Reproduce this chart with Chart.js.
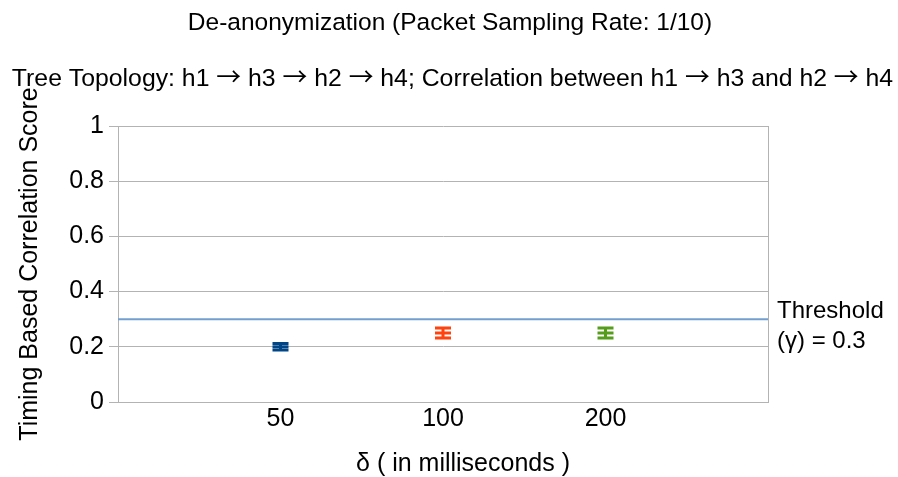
<!DOCTYPE html>
<html>
<head>
<meta charset="utf-8">
<script src="https://cdn.jsdelivr.net/npm/chart.js@4"></script>
<style>
  html, body { margin: 0; padding: 0; background: #fff; }
  #wrap { width: 898px; height: 477px; }
</style>
</head>
<body>
<div id="wrap"><canvas id="c" width="898" height="477"></canvas></div>
<script>
const categories = ['50', '100', '200'];
const meanScores = [0.20, 0.25, 0.25];
const errorMargins = [0.012, 0.018, 0.018];
const seriesColors = ['#004586', '#ff420e', '#579d1c'];
const yTicks = [0, 0.2, 0.4, 0.6, 0.8, 1];
const threshold = 0.3;
const titleText = 'De-anonymization (Packet Sampling Rate: 1/10)';
const subtitleText = 'Tree Topology: h1 \u2192 h3 \u2192 h2 \u2192 h4; Correlation between h1 \u2192 h3 and h2 \u2192 h4';
const xTitle = '\u03b4 ( in milliseconds )';
const yTitle = 'Timing Based Correlation Score';
const thresholdLines = ['Threshold', '(\u03b3) = 0.3'];

const FONT = '"Liberation Sans", Arial, sans-serif';
const ARROW_FONT = '"Noto Sans CJK SC", "DejaVu Sans", sans-serif';
const FS = 24;
const TICK_FS = 25;
const TFS = 24.5;
const STFS = 24.8;
const slotCount = categories.length + 1;

const pointDatasets = categories.map((c, i) => ({
  label: c,
  data: [{ x: i + 1, y: meanScores[i] }],
  errors: [errorMargins[i]],
  showLine: false,
  pointStyle: 'line',
  pointRadius: 8,
  pointHoverRadius: 8,
  borderWidth: 3,
  borderColor: seriesColors[i],
  backgroundColor: seriesColors[i]
}));

const thresholdDataset = {
  label: 'Threshold',
  data: [{ x: 0, y: threshold }, { x: slotCount, y: threshold }],
  showLine: true,
  pointRadius: 0,
  borderColor: '#729fcf',
  borderWidth: 2,
  fill: false
};

const errorBarPlugin = {
  id: 'errorBars',
  afterDatasetsDraw(chart) {
    const ctx = chart.ctx;
    const xs = chart.scales.x, ys = chart.scales.y;
    chart.data.datasets.forEach((ds) => {
      if (!ds.errors) return;
      ds.data.forEach((p, j) => {
        const e = ds.errors[j];
        const px = xs.getPixelForValue(p.x);
        const top = ys.getPixelForValue(p.y + e);
        const bot = ys.getPixelForValue(p.y - e);
        ctx.save();
        ctx.strokeStyle = ds.borderColor;
        ctx.lineWidth = 3;
        ctx.beginPath();
        ctx.moveTo(px, top); ctx.lineTo(px, bot);
        ctx.moveTo(px - 8, top); ctx.lineTo(px + 8, top);
        ctx.moveTo(px - 8, bot); ctx.lineTo(px + 8, bot);
        ctx.stroke();
        ctx.restore();
      });
    });
  }
};

function drawMixed(ctx, text, cx, y, size) {
  const parts = text.split(/(\u2192)/);
  const fontFor = (p) => (p === '\u2192' ? size + 'px ' + ARROW_FONT : size + 'px ' + FONT);
  let total = 0;
  const widths = parts.map(p => { ctx.font = fontFor(p); const w = ctx.measureText(p).width; total += w; return w; });
  let x = cx - total / 2;
  ctx.textAlign = 'left';
  parts.forEach((p, i) => { ctx.font = fontFor(p); ctx.fillText(p, x, y); x += widths[i]; });
}

const textPlugin = {
  id: 'texts',
  afterDraw(chart) {
    const ctx = chart.ctx;
    const ca = chart.chartArea;
    const ys = chart.scales.y;
    ctx.save();
    ctx.fillStyle = '#000';
    ctx.font = TFS + 'px ' + FONT;
    ctx.textAlign = 'center';
    ctx.textBaseline = 'alphabetic';
    ctx.fillText(titleText, 450, 30);
    drawMixed(ctx, subtitleText, 452.5, 86, STFS);
    ctx.font = '25px ' + FONT;
    ctx.textAlign = 'center';
    ctx.textBaseline = 'middle';
    ctx.fillText(xTitle, 463, 464.5);
    ctx.font = FS + 'px ' + FONT;
    ctx.textAlign = 'left';
    ctx.textBaseline = 'alphabetic';
    const py = ys.getPixelForValue(threshold);
    ctx.fillText(thresholdLines[0], ca.right + 9, py - 1);
    ctx.fillText(thresholdLines[1], ca.right + 9, py + 29);
    ctx.restore();
  }
};

new Chart(document.getElementById('c'), {
  type: 'scatter',
  data: { datasets: [thresholdDataset, ...pointDatasets] },
  options: {
    responsive: false,
    animation: false,
    devicePixelRatio: 1,
    layout: { padding: { top: 126, right: 130, left: 0, bottom: 0 } },
    plugins: { legend: { display: false }, tooltip: { enabled: false }, title: { display: false } },
    scales: {
      x: {
        type: 'linear',
        min: 0,
        max: slotCount,
        afterBuildTicks(scale) {
          scale.ticks = [];
          for (let v = 0; v <= slotCount; v++) scale.ticks.push({ value: v });
        },
        afterFit(scale) { scale.height = 75; },
        ticks: {
          autoSkip: false,
          maxRotation: 0,
          padding: 2,
          color: '#000',
          font: { family: FONT, size: TICK_FS },
          callback: (v) => categories[v - 1] ?? ''
        },
        grid: {
          drawTicks: false,
          color: (c) => (c.tick && c.tick.value === slotCount ? '#b3b3b3' : 'rgba(0,0,0,0)'),
          lineWidth: 1
        },
        border: { display: true, color: '#b3b3b3' },
        title: { display: false, text: xTitle }
      },
      y: {
        min: 0,
        max: 1,
        afterBuildTicks(scale) { scale.ticks = yTicks.map(v => ({ value: v })); },
        afterFit(scale) { scale.width = 118; },
        ticks: {
          color: '#000',
          padding: 5,
          font: { family: FONT, size: TICK_FS },
          callback: (v) => String(v)
        },
        grid: { color: '#b3b3b3', lineWidth: 1, tickLength: 9 },
        border: { display: true, color: '#b3b3b3' },
        title: { display: true, text: yTitle, color: '#000', font: { family: FONT, size: 25, lineHeight: 1 }, padding: { top: 18, bottom: 0 } }
      }
    }
  },
  plugins: [errorBarPlugin, textPlugin]
});
</script>
</body>
</html>
